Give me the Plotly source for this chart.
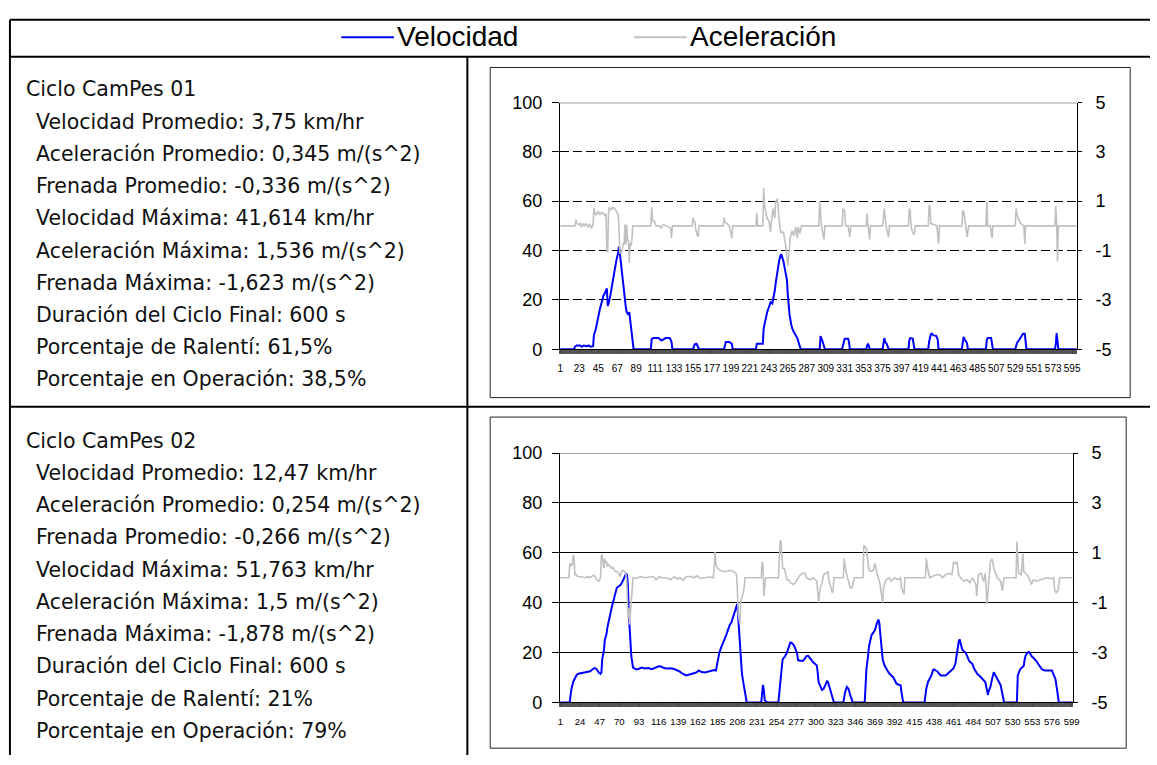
import plotly.graph_objects as go

# ---------------- data ----------------
# speed (km/hr) over time (s), cycle 01
cycle1_speed = [(1,0),(17,0),(18,1.0),(20,1.5),(24,1.5),(26,1.0),(28,1.5),(32,1.2),(34,1.5),(36,1.0),(39,1.2),(40,5.9),(42,8),(43,10),(45,13),(47,16.5),(49,19),(51,21.7),(53,23),(55,24.6),(56,17.5),(57,18.5),(59,21.7),(61,26),(63,29.6),(65,33),(66,36),(68,39),(69,41.614),(70,39),(72,32),(74,25),(75,21.7),(77,17),(78,15),(80,14),(81,15),(82,12),(83,10),(84,5),(86,0),(106,0),(107,4.2),(109,4.5),(115,4.5),(118,3.6),(120,3.8),(123,4.5),(128,4.5),(130,3),(131,0),(155,0),(157,2.0),(159,2.2),(160,1.5),(162,0),(191,0),(193,2.9),(197,2.9),(200,2.2),(201,0),(228,0),(229,2.2),(236,2.2),(237,8.5),(239,12),(241,15),(243,17),(245,19),(247,18.5),(248,20),(250,24),(251,27),(253,32),(255,36),(257,38.5),(258,38),(260,35.5),(262,31),(264,28),(265,22),(267,14),(269,10),(270,8.5),(272,7),(274,6),(276,4.5),(277,3.3),(279,1),(280,0),(302,0),(303,5.3),(305,3.5),(307,1),(308,0),(328,0),(330,3.5),(331,4.2),(335,4.2),(336,3),(337,0),(356,0),(357,1.5),(358,2),(359,1.5),(360,0),(375,0),(377,4.5),(378,3),(380,2),(382,0),(405,0),(406,3.5),(407,4.5),(410,4.3),(411,2),(412,0),(428,0),(429,3),(431,6),(432,6.3),(434,5.6),(437,5.5),(439,4),(440,0),(467,0),(468,3),(469,5),(471,3.5),(473,2.5),(474,0),(495,0),(496,3.8),(497,4.5),(501,4.5),(502,2.5),(503,0),(529,0),(531,2.5),(534,4),(536,5),(538,6.3),(540,6.3),(541,3),(542,0),(575,0),(576,2),(577,6.5),(578,1.5),(579,0),(600,0)]

# acceleration (m/s^2) over time (s), cycle 01
cycle1_accel = [(1,0),(18,0),(19,0.26),(20,0.1),(22,0.05),(24,0.1),(25,-0.05),(27,0.08),(29,0),(31,0.1),(33,-0.05),(35,0.05),(37,-0.1),(39,0.05),(40,0.72),(41,0.5),(43,0.45),(45,0.6),(47,0.45),(49,0.55),(51,0.5),(53,0.4),(54,0.5),(55,-1.05),(56,-1.05),(57,0.6),(58,0.75),(60,0.65),(62,0.75),(64,0.7),(66,0.6),(68,0.45),(69,0),(70,-1.1),(72,-1.1),(74,-0.7),(75,-0.75),(76,0.05),(77,-0.75),(78,0.05),(79,-0.6),(80,-0.55),(81,-1.5),(82,-0.7),(83,-0.8),(84,-0.6),(85,0),(106,0),(107,0.75),(108,0.2),(110,0.2),(111,0.1),(112,0),(116,0),(118,-0.1),(120,0.05),(124,0),(129,-0.1),(130,-0.5),(131,0),(154,0),(155,0.33),(156,0.15),(157,0.2),(158,-0.1),(160,-0.4),(161,-0.43),(162,0),(190,0),(191,0.33),(192,0.15),(194,0.1),(197,0),(200,-0.5),(201,0),(228,0),(229,0.53),(230,0),(236,0),(237,1.536),(238,0.85),(241,0.3),(243,0.2),(245,-0.26),(246,0.2),(248,0.7),(250,0.3),(251,1.0),(253,1.1),(255,0.2),(257,-0.27),(260,-0.26),(262,-0.6),(263,-0.9),(265,-1.623),(267,-0.7),(268,-0.45),(270,-0.2),(272,-0.4),(274,-0.05),(276,-0.5),(277,-0.05),(279,-0.3),(281,0),(301,0),(302,1.0),(304,0),(307,-0.55),(308,0),(328,0),(329,0.7),(331,0.6),(332,0),(335,0),(337,-0.45),(338,0),(356,0),(357,0.5),(358,0),(360,-0.55),(361,0),(375,0),(376,0.6),(377,0.7),(379,0),(382,-0.45),(383,0),(405,0),(406,0.7),(407,0.6),(408,0),(410,-0.3),(412,-0.33),(413,0),(428,0),(429,0.85),(430,0.75),(431,0.1),(435,0.05),(438,0),(440,-0.72),(441,0),(467,0),(468,0.6),(469,0.6),(470,0.4),(472,-0.1),(473,-0.45),(475,0),(495,0),(496,1.0),(497,0),(500,0),(502,-0.5),(503,0),(529,0),(530,0.7),(531,0.45),(533,0.3),(535,0.1),(539,0),(540,-0.72),(541,0),(575,0),(576,0.8),(577,0.1),(578,-1.45),(579,0),(600,0)]

# speed (km/hr) over time (s), cycle 02
cycle2_speed = [(1,0),(12,0),(13,3),(14,5.5),(16,8.2),(17,9),(19,10),(20,11),(22,11.5),(25,11.7),(28,12),(32,12.1),(36,12.5),(39,13.4),(41,13.8),(43,13.5),(44,12.8),(46,12),(48,11.5),(49,12),(50,17.3),(52,21),(53,25),(55,27.5),(56,30),(58,33.5),(59,35.5),(61,38),(63,40.7),(65,43),(67,46),(69,46.5),(71,47),(73,48),(75,49.5),(77,50.5),(78,51.763),(79,51),(80,47),(81,36),(82,30),(83,27),(84,18.6),(86,14),(88,13.5),(90,13.2),(93,13.5),(96,14),(100,13.6),(104,13.8),(108,13.3),(112,14),(116,14.5),(119,14.4),(122,13.8),(126,13.6),(130,13.7),(134,13.4),(137,13),(140,12.5),(144,11.5),(148,10.8),(152,11.2),(156,11.5),(160,12),(163,12.8),(166,12.2),(170,12),(174,12.3),(178,12.8),(181,13),(183,12.8),(185,17.3),(187,20),(189,22),(191,23.5),(193,25.1),(195,27),(197,29),(199,31),(201,32),(203,34.5),(205,36.5),(207,38.5),(208,39.5),(209,34),(210,28),(211,21),(212,16),(213,13.4),(214,10),(216,5.6),(217,3),(218,1),(219,0),(236,0),(237,4),(238,7),(239,5),(240,1),(241,0.5),(243,0),(256,0),(257,4),(258,9.5),(260,14),(261,17.3),(263,18),(264,18.6),(266,20),(268,22.5),(270,24),(272,23.8),(274,23),(276,21.5),(278,19.5),(279,17),(281,16.7),(285,16.7),(287,17.5),(289,18.6),(291,18.6),(293,17.6),(295,16.7),(297,16),(299,15.4),(301,14.8),(302,12),(303,8.2),(305,6.5),(307,5),(309,5.5),(311,7),(313,8.5),(314,8.2),(316,5.6),(318,3),(320,0.4),(321,0),(332,0),(334,4),(336,6.2),(338,5.5),(340,3),(342,1),(343,0),(357,0),(358,6),(359,13.4),(361,19),(362,22.5),(364,25.5),(365,27),(367,28),(369,29),(371,31.5),(372,33),(373,33.2),(374,32),(375,28),(376,25),(377,21),(378,17.3),(380,15),(382,13.4),(384,12.5),(386,11.5),(388,11),(390,10.2),(392,9),(394,7.6),(396,7.2),(399,6.9),(400,4),(401,1.5),(402,0),(427,0),(428,3),(429,5.5),(431,8.2),(433,9.5),(435,10.8),(437,13),(438,13.2),(440,12.8),(442,12.4),(444,11.5),(446,10.8),(450,10.8),(452,10.9),(454,11.5),(456,12.1),(458,12.8),(460,13.5),(461,13.7),(463,15.5),(464,18),(466,22),(467,24.5),(468,25.3),(469,24),(471,21.2),(473,20.5),(475,20),(477,18.5),(479,16.7),(481,16),(483,15.4),(485,13.5),(487,12.1),(489,11.3),(491,10.8),(493,10),(495,9.5),(497,8.7),(498,8.2),(500,5),(501,3),(502,4.5),(504,6.2),(506,9.5),(508,12.1),(510,10.8),(512,9.5),(514,8),(516,6.9),(518,3.5),(520,0),(535,0),(536,10.8),(538,12.5),(539,13.4),(541,14),(543,14.7),(544,17),(545,18.6),(547,19.8),(549,20.3),(551,19.3),(552,18.6),(554,18),(556,17.3),(558,16.5),(560,15.4),(562,14.5),(564,13.4),(566,13),(568,12.8),(572,12.8),(576,12.8),(578,11),(580,9.5),(582,5),(583,2),(584,0),(600,0)]

# acceleration (m/s^2) over time (s), cycle 02
cycle2_accel = [(1,0),(11,0),(12,0.57),(13,0.45),(14,0.57),(15,0.5),(16,0.9),(17,0.85),(18,0.1),(19,0.15),(21,0.05),(24,0.05),(27,0.03),(30,0),(33,0.05),(35,0),(38,0.05),(40,0.1),(42,0.03),(44,-0.1),(46,-0.14),(47,-0.05),(48,0),(49,0.9),(50,0.9),(51,0.6),(52,0.38),(53,0.77),(54,0.6),(55,0.64),(56,0.45),(57,0.55),(59,0.45),(61,0.38),(63,0.4),(65,0.25),(67,0.25),(69,0.18),(71,0.05),(72,0.2),(74,0.3),(76,0.25),(78,0.1),(79,-0.4),(80,-1.6),(81,-1.2),(82,-1.878),(83,-1.3),(84,-1.0),(85,-0.2),(86,0),(90,-0.03),(95,0.05),(100,0),(106,0.03),(110,0.05),(113,-0.08),(117,0.05),(120,0),(125,0),(130,-0.08),(134,0.05),(138,-0.05),(141,0),(145,-0.1),(148,0.05),(153,0.05),(157,0),(161,0.08),(165,-0.03),(170,0),(175,0.03),(180,0),(182,1.03),(183,0.5),(185,0.38),(188,0.3),(192,0.25),(196,0.25),(199,0.3),(203,0.25),(206,0.2),(207,0.1),(208,-0.4),(209,-1.45),(211,-1.84),(212,-0.92),(214,-0.73),(216,-0.4),(217,0),(236,0),(237,0.64),(238,0.5),(239,-0.73),(240,-0.4),(241,0),(256,0),(258,1.42),(259,1.5),(261,0.38),(263,0.38),(266,-0.08),(268,-0.08),(270,-0.2),(274,-0.27),(276,-0.2),(280,0.05),(284,0.18),(287,0.18),(289,0),(293,-0.08),(297,0),(301,-0.14),(303,-1.0),(305,-0.4),(307,-0.2),(309,0.12),(311,0.18),(314,0.25),(315,-0.08),(317,-0.4),(319,-0.6),(320,-0.5),(321,0),(332,0),(333,0.77),(335,0.25),(337,0),(340,-0.4),(342,-0.4),(345,0),(355,0),(356,1.29),(358,1.22),(359,1.16),(362,0.3),(364,0.25),(367,0.3),(369,0.57),(371,0.25),(373,0),(375,-0.27),(376,-0.53),(378,-1.0),(379,-0.4),(382,-0.08),(386,0),(388,-0.14),(392,0),(396,-0.08),(399,0),(400,-0.4),(403,-0.66),(404,0),(428,0),(429,0.77),(431,0.3),(433,0),(436,0.05),(441,0.12),(445,0.12),(448,0),(452,0.14),(456,0.18),(459,0.12),(461,0.64),(463,0.57),(465,0.64),(467,0.12),(469,0),(473,-0.14),(477,-0.08),(480,-0.2),(483,0),(487,-0.27),(488,-0.73),(490,0.12),(493,0.18),(496,-0.14),(498,0.18),(500,-1.05),(502,0),(504,0.64),(506,0.77),(508,0.38),(512,0),(516,-0.14),(518,-0.53),(520,0),(534,0),(535,1.45),(537,0.18),(540,0.12),(542,0.96),(543,0.25),(547,0.12),(549,0),(552,-0.27),(554,-0.08),(558,-0.14),(562,-0.08),(566,-0.04),(570,0),(574,-0.04),(578,0),(579,-0.47),(581,-0.6),(583,-0.53),(585,0),(600,0)]

# category labels shown on the time axes
cycle1_ticks = [1, 23, 45, 67, 89, 111, 133, 155, 177, 199, 221, 243, 265, 287, 309,
                331, 353, 375, 397, 419, 441, 463, 485, 507, 529, 551, 573, 595]
cycle2_ticks = [1, 24, 47, 70, 93, 116, 139, 162, 185, 208, 231, 254, 277, 300,
                323, 346, 369, 392, 415, 438, 461, 484, 507, 530, 553, 576, 599]

speed_ticks = [0, 20, 40, 60, 80, 100]
accel_ticks = [-5, -3, -1, 1, 3, 5]

cycle1_title = "Ciclo CamPes 01"
cycle1_stats = [
    "Velocidad Promedio: 3,75 km/hr",
    "Aceleración Promedio: 0,345 m/(s^2)",
    "Frenada Promedio: -0,336 m/(s^2)",
    "Velocidad Máxima: 41,614 km/hr",
    "Aceleración Máxima: 1,536 m/(s^2)",
    "Frenada Máxima: -1,623 m/(s^2)",
    "Duración del Ciclo Final: 600 s",
    "Porcentaje de Ralentí: 61,5%",
    "Porcentaje en Operación: 38,5%",
]
cycle2_title = "Ciclo CamPes 02"
cycle2_stats = [
    "Velocidad Promedio: 12,47 km/hr",
    "Aceleración Promedio: 0,254 m/(s^2)",
    "Frenada Promedio: -0,266 m/(s^2)",
    "Velocidad Máxima: 51,763 km/hr",
    "Aceleración Máxima: 1,5 m/(s^2)",
    "Frenada Máxima: -1,878 m/(s^2)",
    "Duración del Ciclo Final: 600 s",
    "Porcentaje de Ralentí: 21%",
    "Porcentaje en Operación: 79%",
]

# ---------------- layout helpers ----------------
W, H = 1157, 765
BLUE = "#0000FF"
GRAY = "#C0C0C0"
AXIS_FONT = "Liberation Sans, Arial, sans-serif"
TEXT_FONT = "Verdana, DejaVu Sans, sans-serif"


def px(x):
    return x / W


def py(y):
    return 1 - y / H


fig = go.Figure()

for n, (spd, acc) in enumerate([(cycle1_speed, cycle1_accel), (cycle2_speed, cycle2_accel)]):
    xa = "x" if n == 0 else "x2"
    ya_main = "y" if n == 0 else "y3"
    ya_sec = "y2" if n == 0 else "y4"
    t, v = zip(*spd)
    fig.add_trace(go.Scatter(x=t, y=v, xaxis=xa, yaxis=ya_main, mode="lines",
                             line=dict(color=BLUE, width=2), name="Velocidad",
                             showlegend=False))
    t, a = zip(*acc)
    fig.add_trace(go.Scatter(x=t, y=a, xaxis=xa, yaxis=ya_sec, mode="lines",
                             line=dict(color=GRAY, width=1.6), name="Aceleración",
                             showlegend=False))

# plot-area geometry (pixels)
areas = [
    dict(x0=562.3, x1=1083.3, y0=95.0, y1=348.3, ticks=cycle1_ticks, dash="9px,4px", tsize=10),
    dict(x0=562.3, x1=1079.3, y0=455.0, y1=711.0, ticks=cycle2_ticks, dash="solid", tsize=9.6),
]

for n, ar in enumerate(areas):
    xkey = "xaxis" if n == 0 else "xaxis2"
    ykey = "yaxis" if n == 0 else "yaxis3"
    y2key = "yaxis2" if n == 0 else "yaxis4"
    yname = "y" if n == 0 else "y3"
    xname = "x" if n == 0 else "x2"
    fig.layout[xkey] = dict(
        domain=[px(ar["x0"]), px(ar["x1"])], anchor=yname,
        range=[0.5, 600.5], showgrid=False, zeroline=False,
        showline=True, linecolor="#000", linewidth=1,
        tickmode="array", tickvals=ar["ticks"], ticktext=[str(v) for v in ar["ticks"]],
        tickangle=0,
        ticks="outside", ticklen=4, tickcolor="#444", tickwidth=1,
        minor=dict(tickmode="linear", tick0=0.5, dtick=1, ticks="outside",
                   ticklen=4, tickcolor="#555", tickwidth=1, showgrid=False),
        tickfont=dict(family=AXIS_FONT, size=ar["tsize"], color="#000"),
        ticklabelstandoff=6, fixedrange=True,
    )
    fig.layout[ykey] = dict(
        domain=[py(ar["y1"]), py(ar["y0"])], anchor=xname,
        range=[0, 100], tickmode="array", tickvals=speed_ticks,
        showgrid=True, gridcolor="#000", gridwidth=1, griddash=ar["dash"],
        zeroline=False, showline=True, linecolor="#000", linewidth=1,
        ticks="outside", ticklen=7, tickcolor="#000",
        tickfont=dict(family=AXIS_FONT, size=18, color="#000"),
        ticklabelstandoff=6, fixedrange=True,
    )
    fig.layout[y2key] = dict(
        overlaying=yname, anchor=xname, side="right",
        range=[-5, 5], tickmode="array", tickvals=accel_ticks,
        ticktext=[str(v) for v in accel_ticks],
        showgrid=False, zeroline=False, showline=True, linecolor="#000", linewidth=1,
        ticks="outside", ticklen=4, tickcolor="#000",
        tickfont=dict(family=AXIS_FONT, size=18, color="#000"),
        ticklabelstandoff=10, fixedrange=True,
    )
    # gray plot-area border along the top
    fig.add_shape(type="line", xref=f"{xname} domain", yref=yname,
                  x0=0, x1=1, y0=100, y1=100, line=dict(color="#A0A0A0", width=2))

# ---------------- table frame ----------------
frame = dict(color="#000", width=2)
lines = [
    (8, 10, W, 10), (8, 48, W, 48), (8, 407.5, W, 407.5),
    (8, 10, 8, H), (469, 48, 469, H),
]
for x0, y0, x1, y1 in lines:
    fig.add_shape(type="line", xref="paper", yref="paper",
                  x0=px(x0), y0=py(y0), x1=px(x1), y1=py(y1), line=frame)

# chart boxes
for x0, y0, x1, y1 in [(492, 59, 1137, 398), (492, 418, 1133, 758)]:
    fig.add_shape(type="rect", xref="paper", yref="paper",
                  x0=px(x0), y0=py(y0), x1=px(x1), y1=py(y1),
                  line=dict(color="#222", width=1))

# ---------------- legend row ----------------
LEG_Y = 28
for x0, x1, col, label in [(342, 395, BLUE, "Velocidad"), (637, 690, GRAY, "Aceleración")]:
    fig.add_shape(type="line", xref="paper", yref="paper",
                  x0=px(x0), x1=px(x1), y0=py(LEG_Y), y1=py(LEG_Y),
                  line=dict(color=col, width=2))
    fig.add_annotation(xref="paper", yref="paper", x=px(x1 + 1), y=py(LEG_Y - 1),
                       xanchor="left", yanchor="middle", showarrow=False,
                       text=label, font=dict(family=AXIS_FONT, size=28, color="#000"))

# ---------------- statistics text ----------------
for title, stats, top in [(cycle1_title, cycle1_stats, 81.5), (cycle2_title, cycle2_stats, 442.3)]:
    fig.add_annotation(xref="paper", yref="paper", x=px(22), y=py(top),
                       xanchor="left", yanchor="middle", showarrow=False,
                       text=title, font=dict(family=TEXT_FONT, size=20.5, color="#111"))
    for k, s in enumerate(stats):
        fig.add_annotation(xref="paper", yref="paper", x=px(32), y=py(top + 33.1 * (k + 1)),
                           xanchor="left", yanchor="middle", showarrow=False,
                           text=s, font=dict(family=TEXT_FONT, size=20.5, color="#111"))

fig.update_layout(
    width=W, height=H, autosize=False,
    margin=dict(l=0, r=0, t=0, b=0, pad=0),
    paper_bgcolor="#fff", plot_bgcolor="#fff",
    showlegend=False,
)

# the page body keeps no default margin so the figure fills the window exactly
fig.write_html("out.html", config={"displayModeBar": False},
               post_script="document.body.style.margin='0';document.body.style.overflow='hidden';")
